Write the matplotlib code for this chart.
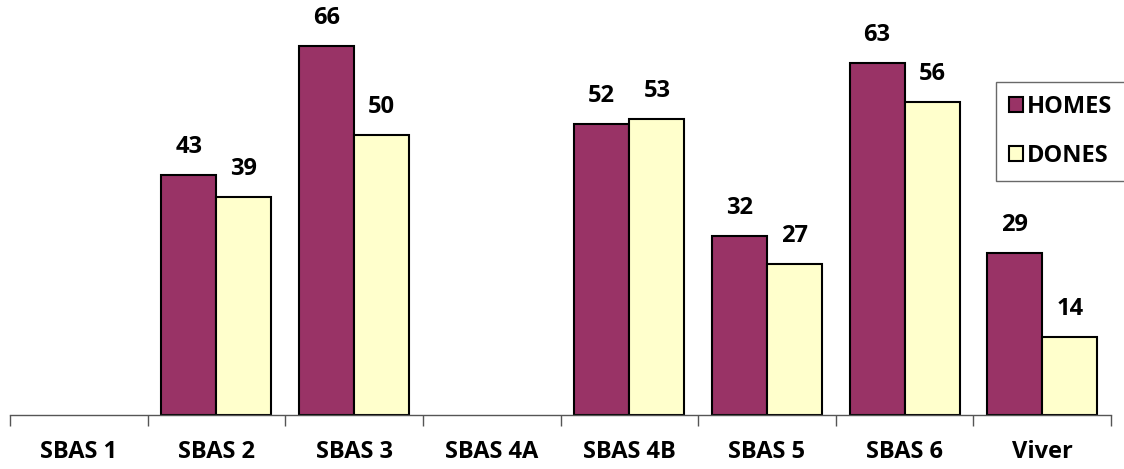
import matplotlib.pyplot as plt
import numpy as np
from matplotlib.patches import Patch

categories = ['SBAS 1', 'SBAS 2', 'SBAS 3', 'SBAS 4A', 'SBAS 4B', 'SBAS 5', 'SBAS 6', 'Viver']
homes = [None, 43, 66, None, 52, 32, 63, 29]
dones = [None, 39, 50, None, 53, 27, 56, 14]

plt.rcParams['font.family'] = ['Open Sans', 'DejaVu Sans']
plt.rcParams['font.weight'] = 'bold'

c_homes = '#993366'
c_dones = '#FFFFCC'

fig = plt.figure(figsize=(11.24, 4.69), dpi=100)
ax = fig.add_axes([10 / 1124, 54 / 469, 1101 / 1124, 415 / 469])

x = np.arange(len(categories))
w = 0.4
for i in range(len(categories)):
    if homes[i] is not None:
        ax.bar(x[i] - w / 2, homes[i], w, color=c_homes, edgecolor='black', linewidth=1.5)
        ax.text(x[i] - w / 2, homes[i] + 5.0, str(homes[i]), ha='center', va='center',
                fontsize=17, fontweight='bold')
    if dones[i] is not None:
        ax.bar(x[i] + w / 2, dones[i], w, color=c_dones, edgecolor='black', linewidth=1.5)
        ax.text(x[i] + w / 2, dones[i] + 5.0, str(dones[i]), ha='center', va='center',
                fontsize=17, fontweight='bold')

ax.set_xlim(-0.5, len(categories) - 0.5)
ax.set_ylim(0, 74.2)
for s in ['top', 'right', 'left']:
    ax.spines[s].set_visible(False)
ax.spines['bottom'].set_color('#555555')
ax.spines['bottom'].set_linewidth(1)
ax.set_yticks([])
ax.set_xticks(np.arange(-0.5, len(categories)), minor=False)
ax.set_xticklabels([])
ax.tick_params(axis='x', length=8, color='#555555', width=1)
for i, c in enumerate(categories):
    ax.text(x[i], -6.7, c, ha='center', va='center', fontsize=17, fontweight='bold')

handles = [Patch(facecolor=c_homes, edgecolor='black', linewidth=1.5, label='HOMES'),
           Patch(facecolor=c_dones, edgecolor='black', linewidth=1.5, label='DONES')]
leg = fig.legend(handles=handles, loc='upper left', bbox_to_anchor=(996 / 1124, 1 - 82 / 469),
                 frameon=True, fancybox=False, edgecolor='#444444', fontsize=17,
                 handlelength=0.6, handleheight=0.6, handletextpad=0.15,
                 labelspacing=1.05, borderpad=0.55, borderaxespad=0)
leg.get_frame().set_linewidth(1)
for t in leg.get_texts():
    t.set_fontweight('bold')

fig.savefig('out.png', dpi=100)
